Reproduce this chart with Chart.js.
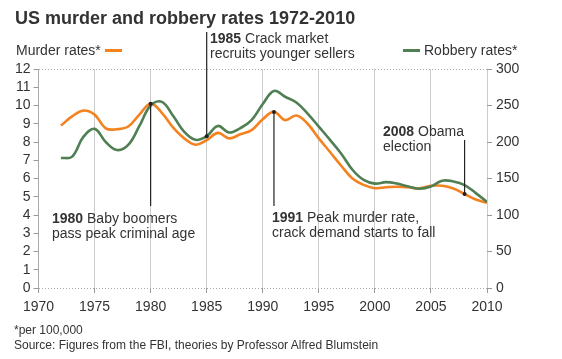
<!DOCTYPE html>
<html>
<head>
<meta charset="utf-8">
<script src="https://cdn.jsdelivr.net/npm/chart.js@4.4.0/dist/chart.umd.min.js"></script>
<style>
body { margin: 0; background: #fff; font-family: "Liberation Sans", Arial, sans-serif; color: #333; }
#wrap { position: relative; width: 562px; height: 359px; overflow: hidden; }
#c { position: absolute; left: 0; top: 0; }
.t { position: absolute; white-space: nowrap; line-height: 1; }
.dash { display: inline-block; width: 17px; height: 3px; vertical-align: middle; margin: 0 4px; position: relative; top: -1px; }
</style>
</head>
<body>
<div id="wrap">
  <canvas id="c" width="562" height="359"></canvas>
  <div class="t" style="left:15px;top:9px;font-size:18px;font-weight:bold;color:#333">US murder and robbery rates 1972-2010</div>
  <div class="t" style="left:16px;top:43px;font-size:14px">Murder rates*<span class="dash" style="background:#f3821f"></span></div>
  <div class="t" style="left:399px;top:43px;font-size:14px"><span class="dash" style="background:#4f7f52"></span>Robbery rates*</div>
  <div class="t" style="left:14px;top:324px;font-size:12px">*per 100,000</div>
  <div class="t" style="left:14px;top:339px;font-size:12px">Source: Figures from the FBI, theories by Professor Alfred Blumstein</div>
</div>
<script>
// values, per 100,000
const years = [1972, 1973, 1974, 1975, 1976, 1977, 1978, 1979, 1980, 1981, 1982, 1983, 1984,
  1985, 1986, 1987, 1988, 1989, 1990, 1991, 1992, 1993, 1994, 1995, 1996, 1997,
  1998, 1999, 2000, 2001, 2002, 2003, 2004, 2005, 2006, 2007, 2008, 2009, 2010];
const murder = [8.9, 9.4, 9.72, 9.5, 8.75, 8.7, 8.85, 9.5, 10.1, 9.6, 8.8, 8.2, 7.85,
  8.1, 8.5, 8.2, 8.42, 8.65, 9.25, 9.65, 9.2, 9.45, 9.0, 8.2, 7.45, 6.7,
  6.0, 5.65, 5.47, 5.52, 5.55, 5.52, 5.46, 5.6, 5.6, 5.45, 5.15, 4.85, 4.67];
const robbery = [178, 180, 207, 218, 200, 189, 196, 222, 250, 255, 236, 214, 203,
  208, 222, 213, 219, 230, 252, 270, 262, 254, 239, 221, 203, 184,
  162, 148, 143, 145, 143, 139, 136, 139, 147, 146, 141, 130, 118];
const murderTicks = [0, 12];
const robberyTicks = [0, 300];

const orange = '#f3821f';
const green = '#4f7f52';

function pts(vals) {
  return years.map((yr, i) => ({ x: yr, y: vals[i] }));
}

// annotation lines, dots and captions
const notes = {
  id: 'notes',
  afterDatasetsDraw(chart) {
    const ctx = chart.ctx;
    const sx = chart.scales.x, sy = chart.scales.y, sr = chart.scales.y2;
    const mAt = yr => sy.getPixelForValue(murder[years.indexOf(yr)]);
    const rAt = yr => sr.getPixelForValue(robbery[years.indexOf(yr)]);

    function stem(yr, yA, yB) {
      const px = sx.getPixelForValue(yr);
      ctx.beginPath();
      ctx.moveTo(px, yA);
      ctx.lineTo(px, yB);
      ctx.stroke();
    }
    function dot(yr, py) {
      ctx.beginPath();
      ctx.arc(sx.getPixelForValue(yr), py, 2, 0, Math.PI * 2);
      ctx.fill();
    }
    function caption(x, y, bold, rest, second) {
      ctx.font = 'bold 14px "Liberation Sans", Arial, sans-serif';
      const wb = ctx.measureText(bold).width;
      ctx.fillText(bold, x, y);
      ctx.font = '14px "Liberation Sans", Arial, sans-serif';
      ctx.fillText(rest, x + wb, y);
      ctx.fillText(second, x, y + 15);
    }

    ctx.save();
    ctx.strokeStyle = '#222';
    ctx.fillStyle = '#222';
    ctx.lineWidth = 1.2;

    stem(1980, mAt(1980), 206);
    dot(1980, mAt(1980));
    stem(1985, 32, rAt(1985));
    dot(1985, rAt(1985));
    stem(1991, mAt(1991), 206);
    dot(1991, mAt(1991));
    stem(2008, 140, mAt(2008));
    dot(2008, mAt(2008));

    ctx.fillStyle = '#333';
    ctx.textBaseline = 'alphabetic';
    caption(52, 223, '1980', ' Baby boomers', 'pass peak criminal age');
    caption(210, 43, '1985', ' Crack market', 'recruits younger sellers');
    caption(272, 222, '1991', ' Peak murder rate,', 'crack demand starts to fall');
    caption(383, 136, '2008', ' Obama', 'election');
    ctx.restore();
  }
};

const tickFont = { family: '"Liberation Sans", Arial, sans-serif', size: 14 };

new Chart(document.getElementById('c'), {
  type: 'line',
  data: {
    datasets: [
      {
        label: 'Robbery rates*',
        data: pts(robbery),
        yAxisID: 'y2',
        borderColor: green,
        borderWidth: 2.6,
        pointRadius: 0,
        tension: 0.4,
        fill: false
      },
      {
        label: 'Murder rates*',
        data: pts(murder),
        yAxisID: 'y',
        borderColor: orange,
        borderWidth: 2.6,
        pointRadius: 0,
        tension: 0.4,
        fill: false
      }
    ]
  },
  options: {
    responsive: false,
    animation: false,
    layout: { padding: { top: 69, bottom: 0, left: 0, right: 0 } },
    plugins: { legend: { display: false }, tooltip: { enabled: false } },
    scales: {
      x: {
        type: 'linear',
        min: 1970,
        max: 2010,
        ticks: { stepSize: 5, color: '#333', font: tickFont, padding: 6, autoSkip: false, maxRotation: 0, callback: v => String(v) },
        grid: {
          color: ctx => (ctx.tick && (ctx.tick.value === 1970)) ? 'transparent' : '#cccccc',
          tickColor: '#999',
          tickLength: 5
        },
        border: { display: false },
        afterFit: s => { s.height = 71; }
      },
      y: {
        position: 'left',
        min: murderTicks[0],
        max: murderTicks[1],
        ticks: { stepSize: 1, color: '#333', font: tickFont, padding: 3, autoSkip: false },
        grid: {
          color: ctx => (ctx.tick && (ctx.tick.value === 0 || ctx.tick.value === 12)) ? '#aaa' : 'transparent',
          tickColor: '#999',
          tickLength: 5
        },
        border: { display: true, color: '#aaa', dash: [1, 2] },
        afterFit: s => { s.width = 38.5; }
      },
      y2: {
        position: 'right',
        min: robberyTicks[0],
        max: robberyTicks[1],
        ticks: { stepSize: 50, color: '#333', font: tickFont, padding: 4, autoSkip: false },
        grid: { drawOnChartArea: false, tickColor: '#999', tickLength: 5 },
        border: { display: false },
        afterFit: s => { s.width = 75; }
      }
    }
  },
  plugins: [notes]
});
</script>
</body>
</html>
